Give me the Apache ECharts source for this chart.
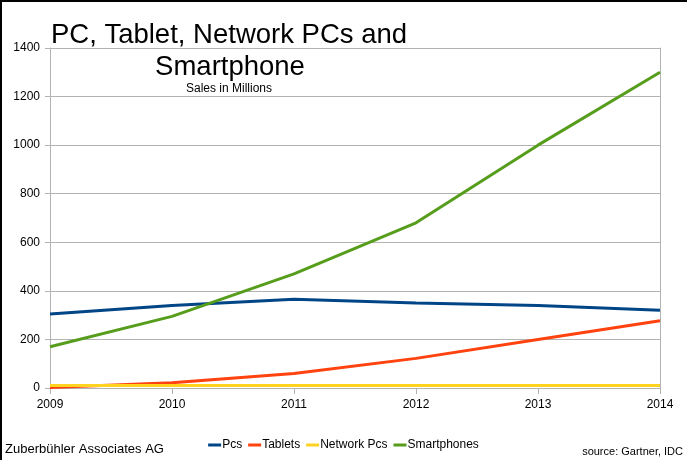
<!DOCTYPE html>
<html><head><meta charset="utf-8">
<script src="https://cdn.jsdelivr.net/npm/echarts@6/dist/echarts.min.js"></script>
<style>html,body{margin:0;padding:0;background:#fff}#c{width:687px;height:460px}</style>
</head><body><div id="c"></div>
<script>
const years = ['2009','2010','2011','2012','2013','2014'];
const pcs = [305, 340, 365, 350, 340, 320];
const tablets = [2, 22, 60, 122, 200, 277];
const networkPcs = [10, 10, 10, 10, 10, 10];
const smartphones = [170, 295, 470, 680, 1000, 1300];
const yTicks = {min: 0, max: 1400, interval: 200};

const FONT = '"Liberation Sans", Arial, sans-serif';
const chart = echarts.init(document.getElementById('c'));
function line(name, data, color) {
  return {name, type: 'line', data, symbol: 'none', smooth: false,
    lineStyle: {color, width: 3}, itemStyle: {color}};
}
chart.setOption({
  animation: false,
  backgroundColor: '#fff',
  textStyle: {fontFamily: FONT, color: '#000'},
  grid: {left: 50, right: 27, top: 48, bottom: 72},
  xAxis: {type: 'category', data: years, boundaryGap: false,
    axisLine: {lineStyle: {color: '#b3b3b3', width: 1}},
    axisTick: {show: true, length: 6, lineStyle: {color: '#b3b3b3'}},
    axisLabel: {color: '#000', fontSize: 12, fontFamily: FONT, margin: 11},
    splitLine: {show: false}},
  yAxis: [{type: 'value', min: yTicks.min, max: yTicks.max, interval: yTicks.interval,
    axisLine: {show: true, lineStyle: {color: '#b3b3b3'}},
    axisTick: {show: true, length: 5, lineStyle: {color: '#b3b3b3'}},
    axisLabel: {color: '#000', fontSize: 12, fontFamily: FONT, margin: 10, formatter: v => String(v)},
    splitLine: {lineStyle: {color: '#b3b3b3', width: 1}}},
   {type: 'value', position: 'right', min: yTicks.min, max: yTicks.max, interval: yTicks.interval,
    axisLine: {show: true, lineStyle: {color: '#b3b3b3'}},
    axisTick: {show: false}, axisLabel: {show: false}, splitLine: {show: false}}],
  legend: {bottom: 4, left: 'center', icon: 'rect', itemWidth: 13, itemHeight: 3, itemGap: 6,
    textStyle: {fontSize: 12, fontFamily: FONT, color: '#000', padding: [0,0,0,-4]},
    data: ['Pcs','Tablets','Network Pcs','Smartphones']},
  series: [
    line('Pcs', pcs, '#004586'),
    line('Tablets', tablets, '#ff420e'),
    line('Network Pcs', networkPcs, '#ffd320'),
    line('Smartphones', smartphones, '#579d1c')
  ],
  graphic: [
    {type: 'rect', shape: {x: 0, y: 0, width: 687, height: 2}, style: {fill: '#000'}, z: 100},
    {type: 'rect', shape: {x: 0, y: 0, width: 2, height: 460}, style: {fill: '#000'}, z: 100},
    {type: 'text', x: 229, y: 35, z: 50, style: {text: 'PC, Tablet, Network PCs and', font: '27.5px ' + FONT, fill: '#000', textAlign: 'center', textVerticalAlign: 'middle'}},
    {type: 'text', x: 230, y: 67, z: 50, style: {text: 'Smartphone', font: '27.5px ' + FONT, fill: '#000', textAlign: 'center', textVerticalAlign: 'middle'}},
    {type: 'text', x: 229, y: 89, z: 50, style: {text: 'Sales in Millions', font: '12px ' + FONT, fill: '#000', textAlign: 'center', textVerticalAlign: 'middle'}},
    {type: 'text', x: 5, y: 449, style: {text: 'Zuberbühler Associates AG', font: '13px ' + FONT, fill: '#000', textAlign: 'left', textVerticalAlign: 'middle'}},
    {type: 'text', x: 683, y: 452, style: {text: 'source: Gartner, IDC', font: '11px ' + FONT, fill: '#000', textAlign: 'right', textVerticalAlign: 'middle'}}
  ]
});
</script></body></html>
